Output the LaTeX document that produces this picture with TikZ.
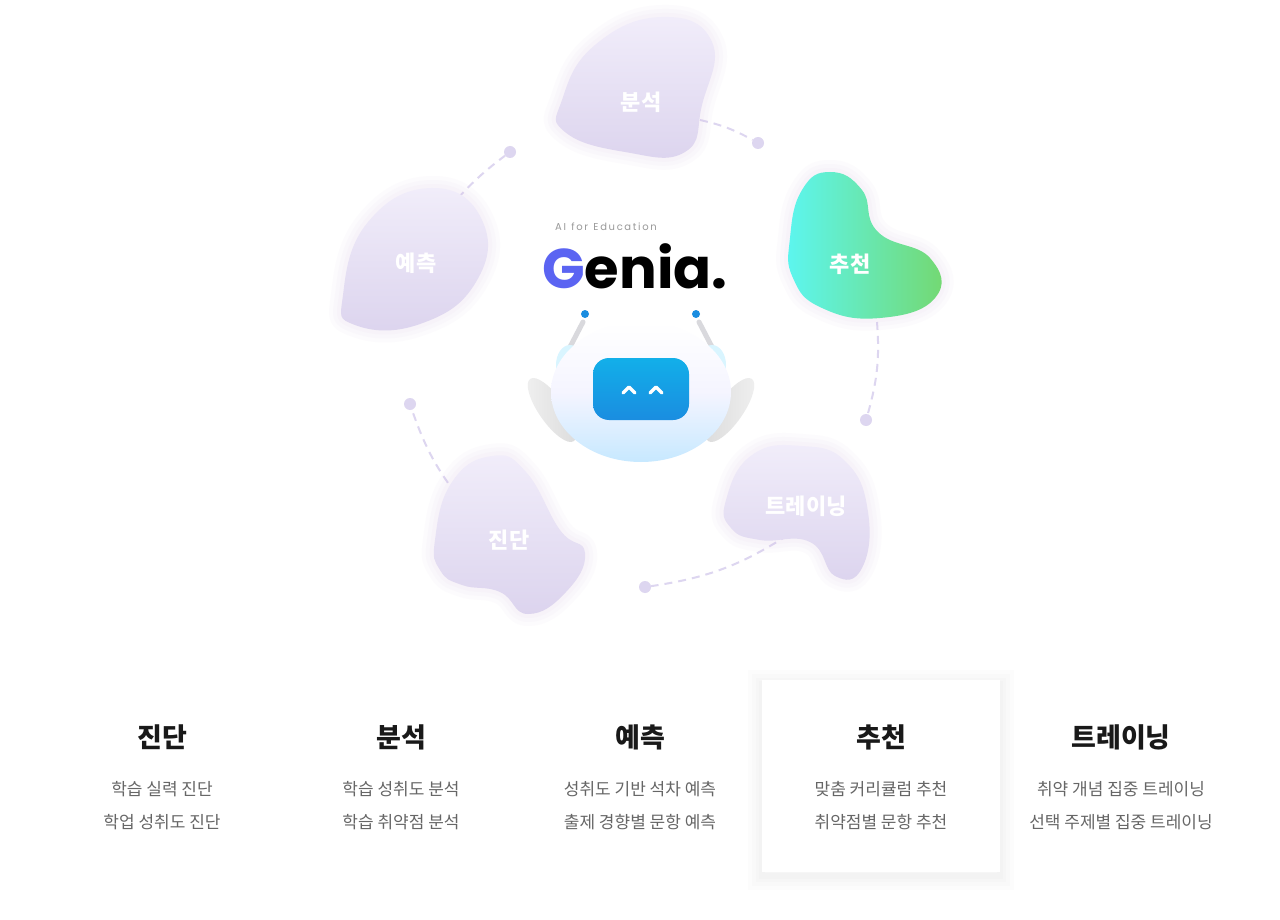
\documentclass[tikz,border=0pt]{standalone}
\usepackage{fontspec}
\setmainfont{Noto Sans CJK KR}
\newfontfamily\logofont{Poppins}
\usetikzlibrary{shapes.geometric}
\definecolor{lavA}{HTML}{F1EDFA}
\definecolor{lavB}{HTML}{DCD4EE}
\definecolor{dotc}{HTML}{DDD6F0}
\definecolor{cyanc}{HTML}{5CF6F0}
\definecolor{greenc}{HTML}{74D870}
\definecolor{robblue}{HTML}{1A8DE0}
\tikzset{
  blob/.style={top color=lavA,bottom color=lavB,draw=none},
  halo/.style={draw=lavB!70!violet!60,line width=#1,opacity=0.06,line join=round},
  blobtxt/.style={text=white,font=\bfseries\fontsize{22}{26}\selectfont},
  link/.style={draw=dotc,line width=2pt,dash pattern=on 8pt off 6pt},
  dot/.style={circle,fill=dotc,inner sep=0pt,minimum size=12pt},
  ttl/.style={font=\bfseries\fontsize{27}{30}\selectfont,text=black!90},
  sub/.style={font=\fontsize{17}{20}\selectfont,text=black!60},
}
\newcommand{\blobshape}[2][blob]{%
  \foreach \w in {24,16,8}{\path[halo=\w pt] plot[smooth cycle,tension=0.8] coordinates {#2};}
  \path[#1] plot[smooth cycle,tension=0.8] coordinates {#2};}
\begin{document}
\begin{tikzpicture}[x=1pt,y=-1pt]
\useasboundingbox[fill=white] (0,0) rectangle (1280,920);
% dashed links
\node[dot] (d1) at (758,143) {};
\node[dot] (d2) at (510,152) {};
\node[dot] (d3) at (866,420) {};
\node[dot] (d4) at (645,587) {};
\node[dot] (d5) at (410,404) {};
\coordinate (s1) at (700,120);
\coordinate (s2) at (458,198);
\coordinate (s3) at (877,322);
\coordinate (s4) at (788,535);
\coordinate (s5) at (465,505);
\draw[link] (s1) to[bend left=8] (d1);
\draw[link] (s2) to[bend left=5] (d2);
\draw[link] (s3) to[bend left=10] (d3);
\draw[link] (s4) to[bend left=12] (d4);
\draw[link] (s5) to[bend left=10] (d5);
% blobs
\blobshape{(562,100) (595,45) (662,17) (712,42) (702,105) (685,152) (625,152) (565,132)}
\node[blobtxt] (b1) at (641,102) {분석};
\blobshape{(343,295) (368,222) (432,188) (482,220) (476,282) (420,324) (355,325)}
\node[blobtxt] (b2) at (416,263) {예측};
\blobshape[{left color=cyanc,right color=greenc,draw=none}]{(790,238) (802,190) (830,172) (862,190) (878,232) (930,258) (935,298) (880,318) (822,308) (793,278)}
\node[blobtxt] (b3) at (850,264) {추천};
\blobshape{(726,500) (752,455) (802,446) (846,462) (868,512) (862,568) (835,576) (810,542) (760,540) (731,528)}
\node[blobtxt] (b4) at (806,506) {트레이닝};
\blobshape{(435,540) (452,482) (492,456) (526,472) (560,530) (585,553) (566,592) (528,614) (500,592) (462,585) (440,570)}
\node[blobtxt] (b5) at (509,540) {진단};
% logo
\node[font=\logofont\fontsize{10}{12}\selectfont,text=black!40] (tag) at (606,227) {A\,I\ \ f\,o\,r\ \ E\,d\,u\,c\,a\,t\,i\,o\,n};
\node[anchor=west,inner sep=0pt,font=\logofont\bfseries\fontsize{56}{60}\selectfont] (logo) at (542,266) {\textcolor[HTML]{5B64F2}{G}enia.};
% robot
\path[draw=none,left color=black!6,right color=black!14,rotate around={35:(552,410)}] (552,410) ellipse (13 and 38);
\path[draw=none,left color=black!14,right color=black!6,rotate around={-35:(730,410)}] (730,410) ellipse (13 and 38);
\draw[line width=5pt,line cap=round,color=blue!10!black!15] (583,322) -- (570,347);
\draw[line width=5pt,line cap=round,color=blue!10!black!15] (699,322) -- (712,347);
\node[circle,fill=robblue,inner sep=0pt,minimum size=8pt] (a1) at (585,314) {};
\node[circle,fill=robblue,inner sep=0pt,minimum size=8pt] (a2) at (696,314) {};
\path[fill=blue!25!cyan!15] (570,365) ellipse (14 and 20);
\path[fill=blue!25!cyan!15] (712,365) ellipse (14 and 20);
\path[top color=white,bottom color=blue!40!cyan!22,middle color=white!96!blue,draw=none] (641,392) ellipse (90 and 70);
\node[draw=none,top color=robblue!70!cyan,bottom color=robblue,rounded corners=16pt,minimum width=96pt,minimum height=62pt] (face) at (641,389) {};
\draw[white,line width=3.5pt,line cap=round,line join=round] (623,393) -- (629,387) -- (635,393);
\draw[white,line width=3.5pt,line cap=round,line join=round] (650,393) -- (656,387) -- (662,393);
% bottom card with soft shadow
\foreach \w in {28,20,12,6}{\path[draw=black,line width=\w pt,opacity=0.012] (762,684) rectangle (1000,876);}
\node[fill=white,minimum width=238pt,minimum height=192pt] (card) at (881,776) {};
% columns
\foreach \x/\t/\a/\b [count=\i] in {162/진단/학습 실력 진단/학업 성취도 진단,401/분석/학습 성취도 분석/학습 취약점 분석,640/예측/성취도 기반 석차 예측/출제 경향별 문항 예측,881/추천/맞춤 커리큘럼 추천/취약점별 문항 추천,1121/트레이닝/취약 개념 집중 트레이닝/선택 주제별 집중 트레이닝}{
  \node[ttl] (t\i) at (\x,737) {\t};
  \node[sub] (p\i) at (\x,789) {\a};
  \node[sub] (q\i) at (\x,822) {\b};
}
\end{tikzpicture}
\end{document}
